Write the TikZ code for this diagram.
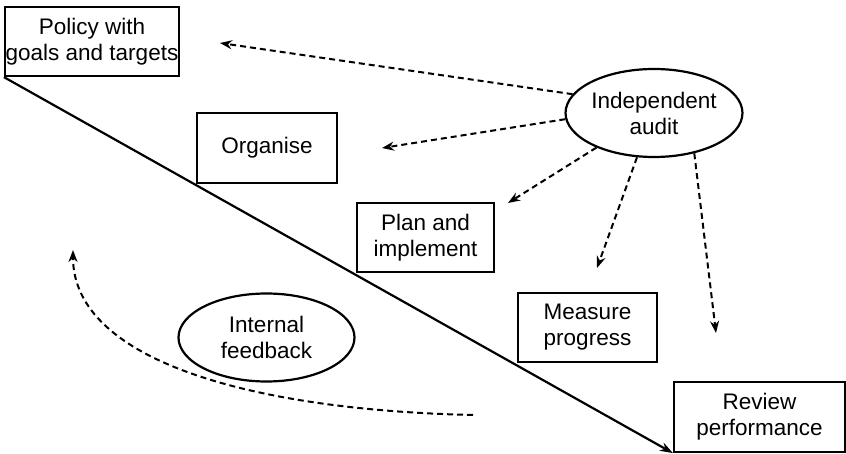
\documentclass[tikz,border=0pt]{standalone}
\usepackage{fontspec}
\setmainfont{Liberation Sans}
\usetikzlibrary{arrows.meta,shapes.geometric}

\begin{document}
\begin{tikzpicture}[x=1pt, y=-1pt,
                every node/.style={font=\fontsize{22.5}{26}\selectfont, align=center, inner sep=0pt},
                stagebox/.style={draw, line width=2.2pt, rectangle},
                oval/.style={draw, line width=2.2pt, ellipse, minimum width=176pt, minimum height=88pt},
                auditarrow/.style={line width=2pt, dash pattern=on 6pt off 4pt, -{Stealth[length=12pt,width=9pt]}}]
                \useasboundingbox (0,0) rectangle (846,454);

                \node [stagebox, minimum width=174pt, minimum height=69pt] (policy) at (92,41.5) {Policy with\\goals and targets};
                \node [stagebox, minimum width=140pt, minimum height=70pt] (organise) at (267,148) {Organise};
                \node [stagebox, minimum width=137pt, minimum height=69pt] (plan) at (425.5,237.5) {Plan and\\implement};
                \node [stagebox, minimum width=139pt, minimum height=69pt] (measure) at (587.5,327.5) {Measure\\progress};
                \node [stagebox, minimum width=171pt, minimum height=70pt] (review) at (759.5,417) {Review\\performance};

                \node [oval] (audit) at (654,113) {Independent\\audit};
                \node [oval] (feedback) at (266.5,337.5) {Internal\\feedback};

                \draw [line width=2.2pt, -{Stealth[length=13pt,width=9pt]}] (policy.south west) -- (review.south west);

                % free ends of the audit arrows
                \coordinate (policytip) at (220,43);
                \coordinate (organisetip) at (382,148);
                \coordinate (plantip) at (508,203);
                \coordinate (measuretip) at (597,268);
                \coordinate (reviewtip) at (716,333);

                \draw [auditarrow] (audit.167) -- (policytip);
                \draw [auditarrow] (audit.184) -- (organisetip);
                \draw [auditarrow] (audit.211) -- (plantip);
                \draw [auditarrow] (audit.249) -- (measuretip);
                \draw [auditarrow] (audit.315) -- (reviewtip);

                \coordinate (loopstart) at (473,415);
                \coordinate (looptip) at (73,250);
                \draw [auditarrow] (loopstart) .. controls (250,410) and (73,360) .. (looptip);
            \end{tikzpicture}
\end{document}
